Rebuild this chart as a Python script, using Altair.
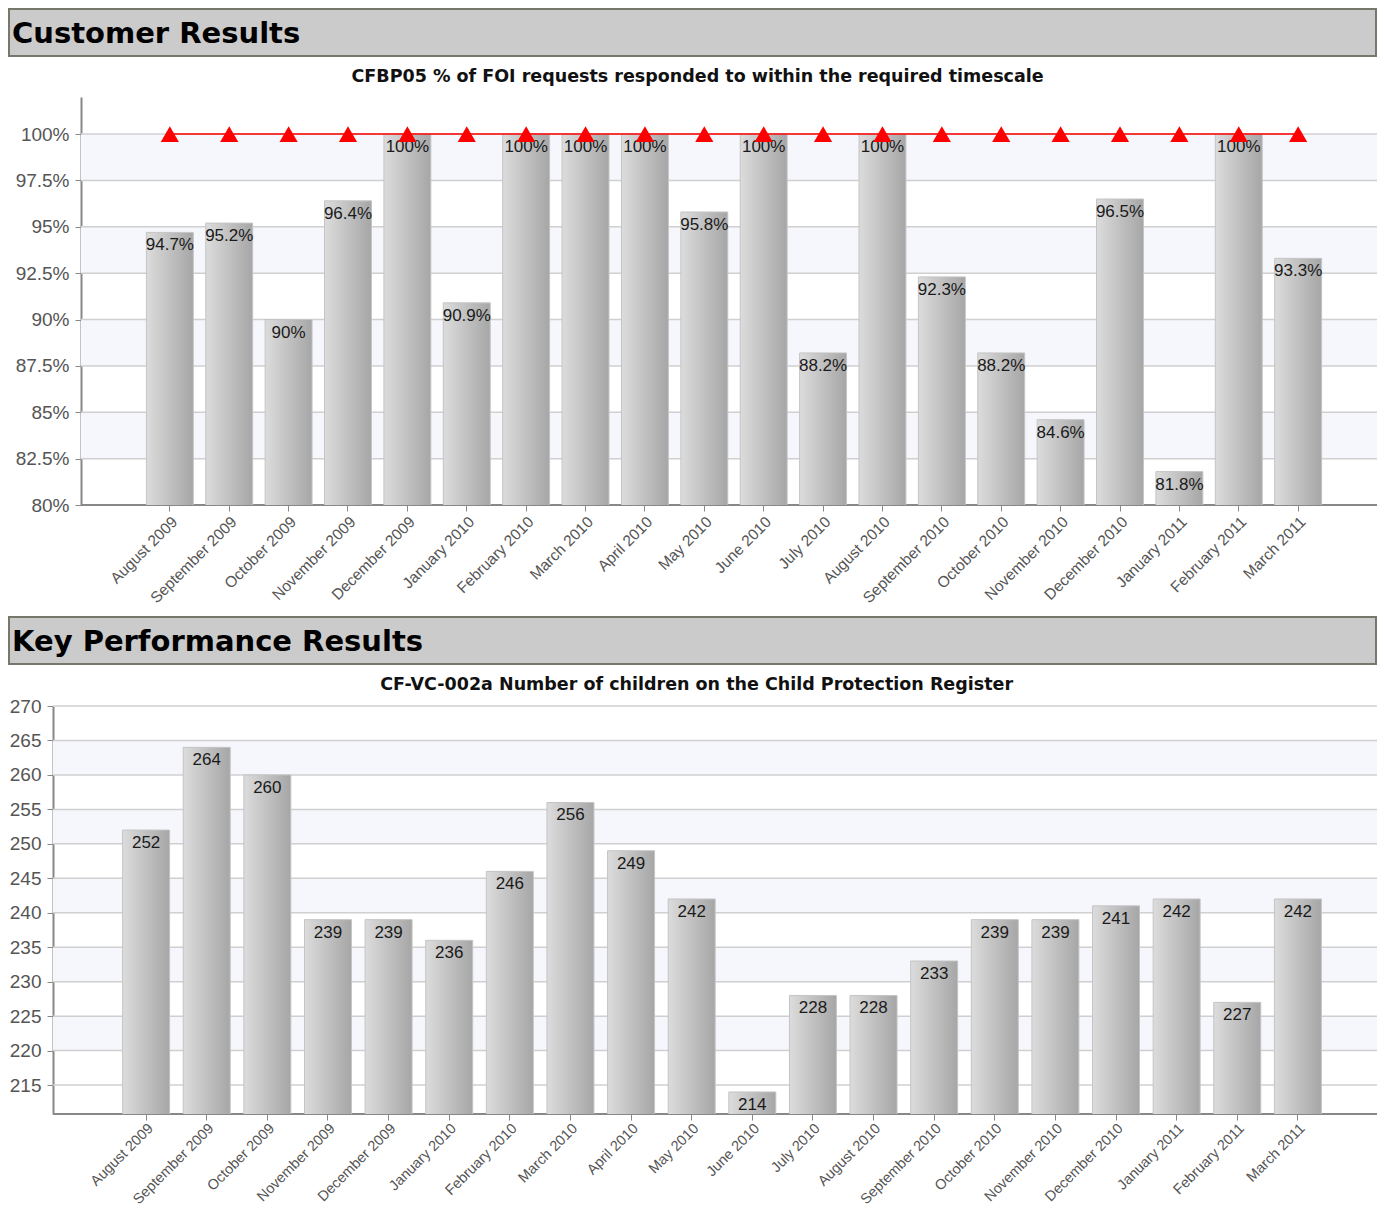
import altair as alt
import pandas as pd

# ---------------- data ----------------
months = ["August 2009", "September 2009", "October 2009", "November 2009",
          "December 2009", "January 2010", "February 2010", "March 2010",
          "April 2010", "May 2010", "June 2010", "July 2010", "August 2010",
          "September 2010", "October 2010", "November 2010", "December 2010",
          "January 2011", "February 2011", "March 2011"]
foi_pct = [94.7, 95.2, 90, 96.4, 100, 90.9, 100, 100, 100, 95.8,
           100, 88.2, 100, 92.3, 88.2, 84.6, 96.5, 81.8, 100, 93.3]
foi_target = [100, 100, 100, 100, 100, 100, 100, 100, 100, 100,
              100, 100, 100, 100, 100, 100, 100, 100, 100, 100]
cpr_count = [252, 264, 260, 239, 239, 236, 246, 256, 249, 242,
             214, 228, 228, 233, 239, 239, 241, 242, 227, 242]

pct_ticks = [80, 82.5, 85, 87.5, 90, 92.5, 95, 97.5, 100]
pct_band_lo = [82.5, 87.5, 92.5, 97.5]
pct_band_hi = [85, 90, 95, 100]
cnt_ticks = [215, 220, 225, 230, 235, 240, 245, 250, 255, 260, 265, 270]
cnt_band_lo = [220, 230, 240, 250, 260]
cnt_band_hi = [225, 235, 245, 255, 265]

header1_text = "Customer Results"
header2_text = "Key Performance Results"
title1 = "CFBP05 % of FOI requests responded to within the required timescale"
title2 = "CF-VC-002a Number of children on the Child Protection Register"

# ---------------- style ----------------
ORIGIN = 45          # common plot origin (px from page content left)
W = 1324             # common plot width
H = 408
LABEL_FONT = "Liberation Sans"
BAND_COL = "#f6f7fd"
GRID_COL = "#d0d0d0"
AXIS_COL = "#888888"
bar_fill = alt.LinearGradient(
    gradient="linear",
    stops=[alt.GradientStop(color="#dcdcdc", offset=0),
           alt.GradientStop(color="#a6a6a6", offset=1)],
    x1=0, x2=1, y1=0, y2=0)

df1 = pd.DataFrame({"month": months, "value": foi_pct, "target": foi_target})
df2 = pd.DataFrame({"month": months, "value": cpr_count})
bands1 = pd.DataFrame({"lo": pct_band_lo, "hi": pct_band_hi})
bands2 = pd.DataFrame({"lo": cnt_band_lo, "hi": cnt_band_hi})
grid1 = pd.DataFrame({"v": pct_ticks})
grid2 = pd.DataFrame({"v": cnt_ticks})


def header(text, h):
    base = alt.Chart(alt.Data(values=[{"t": text}]))
    rect = base.mark_rect(fill="#cbcbcb", stroke="#77776b", strokeWidth=2).encode(
        x=alt.value(-ORIGIN + 1), x2=alt.value(W - 1), y=alt.value(1), y2=alt.value(48))
    txt = base.mark_text(align="left", baseline="middle", font="DejaVu Sans",
                         fontWeight="bold", fontSize=29, color="#000000").encode(
        x=alt.value(-ORIGIN + 4), y=alt.value(26), text="t:N")
    return alt.layer(rect, txt).properties(width=W, height=h)


def x_axis(ext, fs, pad):
    return alt.Axis(labelAngle=-45, labelAlign="right", labelBaseline="top",
                    labelFont=LABEL_FONT, labelFontSize=fs, labelColor="#555555",
                    tickColor=AXIS_COL, tickSize=6, domain=False,
                    labelPadding=pad, grid=False, title=None,
                    minExtent=ext, maxExtent=ext)


def y_axis(values, offset, expr=None):
    kw = dict(values=values, grid=False, domainColor=AXIS_COL, domainWidth=2,
              tickColor=AXIS_COL, tickSize=6, labelPadding=6, labelFont=LABEL_FONT,
              labelFontSize=19, labelColor="#555555", title=None, offset=offset)
    if expr:
        kw["labelExpr"] = expr
    return alt.Axis(**kw)


def panel(df, bands, grid, domain, ticks, left, pin, xrange, xax, title, pct, toff, tdx):
    yax = y_axis(ticks, -left, "datum.value + '%'" if pct else None)
    ysc = alt.Scale(domain=domain, nice=False, zero=False)
    xenc = alt.X("month:N", sort=months, axis=xax,
                 scale=alt.Scale(paddingInner=pin, paddingOuter=1, range=xrange))
    band = alt.Chart(bands).mark_rect(color=BAND_COL).encode(
        x=alt.value(left), x2=alt.value(W),
        y=alt.Y("lo:Q", scale=ysc, axis=yax), y2="hi:Q")
    gl = alt.Chart(grid).mark_rule(color=GRID_COL, strokeWidth=1.5).encode(
        x=alt.value(left), x2=alt.value(W), y=alt.Y("v:Q", scale=ysc, axis=yax))
    base_line = alt.Chart(alt.Data(values=[{}])).mark_rule(
        color=AXIS_COL, strokeWidth=2).encode(
        x=alt.value(left), x2=alt.value(W), y=alt.value(H))
    bars = alt.Chart(df).mark_bar(color=bar_fill, stroke="#c4c4c4", strokeWidth=1,
                                  clip=True).encode(
        x=xenc, y=alt.Y("value:Q", scale=ysc, axis=yax))
    lab_calc = "datum.value + '%'" if pct else "'' + datum.value"
    labels = alt.Chart(df).transform_calculate(lab=lab_calc).mark_text(
        baseline="middle", dy=13, font=LABEL_FONT, fontSize=17, color="#1a1a1a").encode(
        x=xenc, y=alt.Y("value:Q", scale=ysc, axis=yax), text="lab:N")
    layers = [band, gl, base_line, bars, labels]
    if pct:
        line = alt.Chart(df).mark_line(color="#ff0000", strokeWidth=1.5).encode(
            x=xenc, y=alt.Y("target:Q", scale=ysc, axis=yax))
        pts = alt.Chart(df).mark_point(shape="triangle-up", filled=True, opacity=1,
                                       color="#ff0000", size=330).encode(
            x=xenc, y=alt.Y("target:Q", scale=ysc, axis=yax))
        layers += [line, pts]
    return alt.layer(*layers).properties(
        width=W, height=H,
        title=alt.TitleParams(title, font="DejaVu Sans", fontSize=17.5, fontWeight="bold",
                              color="#111111", anchor="middle", frame="bounds",
                              offset=toff, dx=tdx))


chart1 = panel(df1, bands1, grid1, [80, 102], pct_ticks, 28, 0.21, [34, 1328],
               x_axis(111, 15.5, 3), title1, True, 12, 1)
chart2 = panel(df2, bands2, grid2, [210.8, 270], cnt_ticks, 0, 0.225, [9, 1329],
               x_axis(95, 14.5, 1), title2, False, 4, 3)

chart = alt.vconcat(header(header1_text, 59), chart1, header(header2_text, 59), chart2,
                    spacing=0).properties(padding=0).configure_view(stroke=None)

chart.save("out.html", embed_options={"renderer": "svg", "actions": False})
